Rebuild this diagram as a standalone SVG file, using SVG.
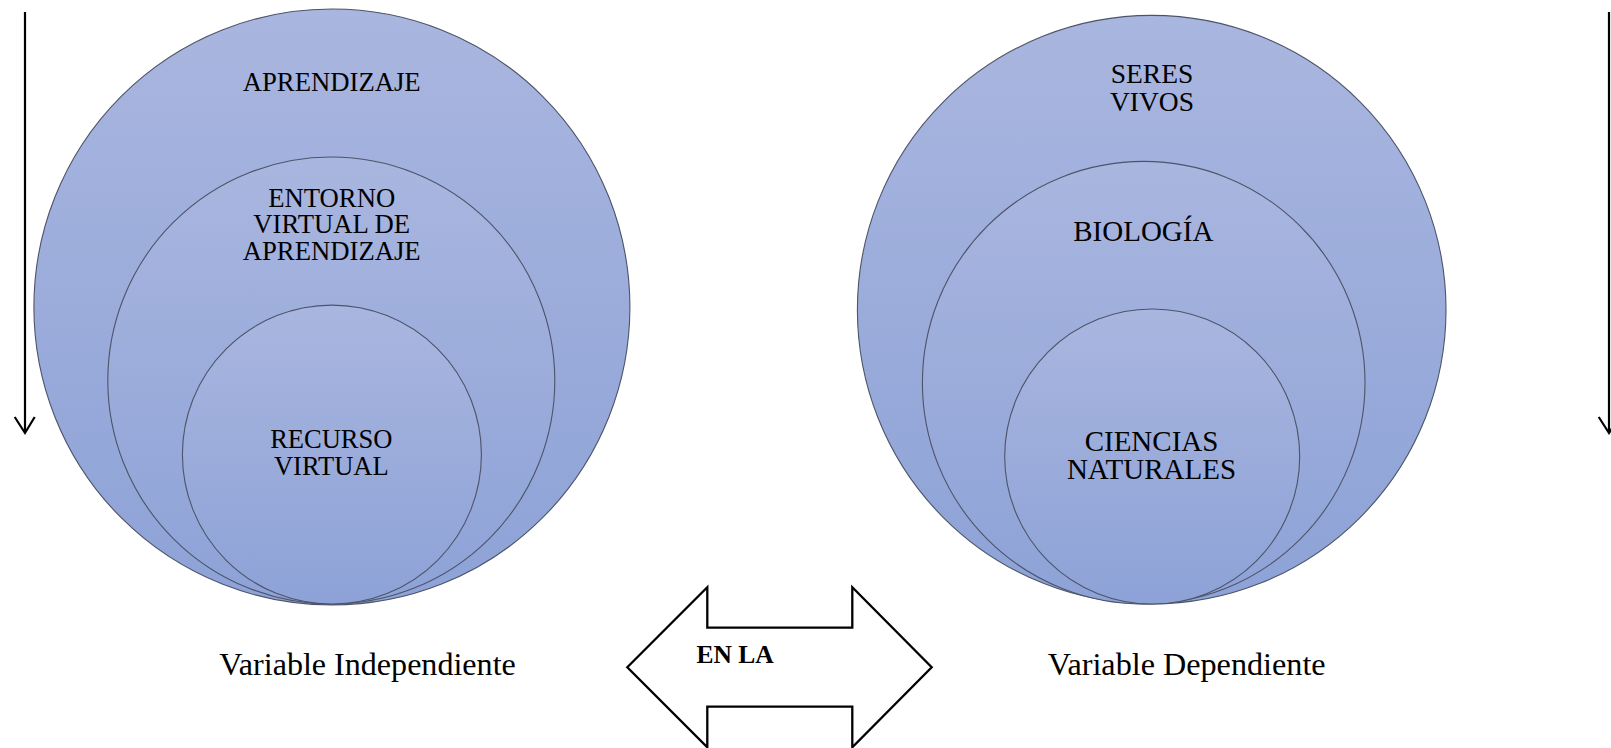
<svg xmlns="http://www.w3.org/2000/svg" width="1611" height="748" viewBox="0 0 1611 748">
<defs>
<linearGradient id="g" x1="0" y1="0" x2="0" y2="1">
<stop offset="0" stop-color="#a9b6df"/>
<stop offset="1" stop-color="#8da2d7"/>
</linearGradient>
<style>
.c{fill:url(#g);stroke:#4d5468;stroke-width:1.1}
.t{font-family:"Liberation Serif","Times New Roman",serif;fill:#000;text-anchor:middle}
.ln{fill:none;stroke:#000;stroke-width:2.2}
</style>
</defs>
<rect width="1611" height="748" fill="#fff"/>
<g id="connectors">
<line class="ln" x1="25" y1="12" x2="25" y2="432"/>
<polyline class="ln" points="14.7,417 25,433 34.7,417"/>
<line class="ln" x1="1609" y1="12" x2="1609" y2="432"/>
<polyline class="ln" points="1598.7,417 1609,433 1619.3,417"/>
</g>
<g id="left-outer"><circle class="c" cx="331.9" cy="307" r="298"/><text class="t" x="331.7" y="91" font-size="26.7">APRENDIZAJE</text></g>
<g id="left-middle"><circle class="c" cx="331.3" cy="380.5" r="223.5"/><text class="t" font-size="26.7"><tspan x="331.7" y="206.7">ENTORNO</tspan><tspan x="331.7" y="233.3">VIRTUAL DE</tspan><tspan x="331.7" y="260">APRENDIZAJE</tspan></text></g>
<g id="left-inner"><circle class="c" cx="331.9" cy="454.6" r="149.5"/><text class="t" font-size="26.5"><tspan x="331.3" y="448.3">RECURSO</tspan><tspan x="331.3" y="475">VIRTUAL</tspan></text></g>
<g id="right-outer"><circle class="c" cx="1151.7" cy="309.7" r="294.3"/><text class="t" font-size="27.5"><tspan x="1152" y="83.3">SERES</tspan><tspan x="1152" y="111">VIVOS</tspan></text></g>
<g id="right-middle"><circle class="c" cx="1143.7" cy="382.7" r="221.3"/><text class="t" x="1143.3" y="241" font-size="29">BIOLOGÍA</text></g>
<g id="right-inner"><circle class="c" cx="1152.2" cy="456.5" r="147.5"/><text class="t" font-size="29"><tspan x="1151.5" y="450.7">CIENCIAS</tspan><tspan x="1151.5" y="479.3">NATURALES</tspan></text></g>
<g id="label-independiente"><text class="t" x="367.5" y="675" font-size="32.1">Variable Independiente</text></g>
<g id="label-dependiente"><text class="t" x="1186.7" y="675" font-size="32.2">Variable Dependiente</text></g>
<g id="double-arrow">
<polygon points="627.3,667.3 707.3,587.3 707.3,627.7 852.3,627.7 852.3,587.3 931.7,667.3 852.3,747.3 852.3,706.7 707.3,706.7 707.3,747.3" fill="#fff" stroke="#000" stroke-width="2.3" stroke-linejoin="miter"/>
<text class="t" x="735" y="663" font-size="25.5" font-weight="bold">EN LA</text>
</g>
</svg>
